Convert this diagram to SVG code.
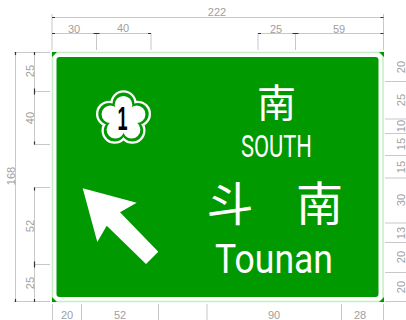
<svg xmlns="http://www.w3.org/2000/svg" width="406" height="320" viewBox="0 0 406 320">
<style>
.d{stroke:#c8c8c8;stroke-width:1;fill:none}
.a{stroke:#333;stroke-width:1.2;fill:none}
.t{font-family:"Liberation Sans",Arial,sans-serif;font-size:11px;fill:#a0a0a0;text-anchor:middle}
.w{fill:#fff;text-anchor:middle}
.c{font-family:"Noto Sans CJK TC","Noto Sans CJK SC",sans-serif;font-weight:400}
.l{font-family:Roboto,"Liberation Sans",Arial,sans-serif;font-weight:400}
</style>
<rect width="406" height="320" fill="#fff"/>
<g id="sign">
<rect x="52.500" y="52.500" width="330.500" height="249" fill="#fff" stroke="#c6eec6" stroke-width="1.600"/>
<path d="M52 52h5l-5 5zM384 52v5l-5-5zM52 302v-5l5 5zM384 302h-5l5-5z" fill="#009900"/>
<rect x="56.500" y="57" width="322" height="240" rx="3" fill="#009900"/>
</g>
<g id="dimensions">
<path class="d" d="M52 14V50M383.500 14V50M52 17.500H383.500M52 33.500H151M258 33.500H383.500M96.500 33V50M151 33V50M258 33V50M295.500 33V50"/>
<path class="d" d="M14 52.500H50M34 91.500H50M34 144.500H50M34 187.500H50M34 264.500H50M14 301.500H50M15.500 52V302M34.500 52V144.500M34.500 187.500V302"/>
<path class="d" d="M385 81.500H406M385 119H406M385 133.500H406M385 155.500H406M385 178H406M385 223H406M385 242.500H406M385 272.500H406M385 301.500H406"/>
<path class="d" d="M52.500 304V320M81.500 304V320M158.500 304V320M207 304V320M341.500 304V320M383.500 304V320"/>
<path class="a" d="M52 17.500h3M380.500 17.500h3M52 33.500h3M93.500 33.500h6M148 33.500h3M258 33.500h3M292.500 33.500h6M380.500 33.500h3M15.500 52v3M15.500 299v3M34.500 52v3M34.500 88.500v6M34.500 141.500v3M34.500 187.500v3M34.500 261.500v6M34.500 299v3"/>
<text class="t" x="217" y="16">222</text>
<text class="t" x="74" y="33">30</text>
<text class="t" x="123" y="32">40</text>
<text class="t" x="276" y="33">25</text>
<text class="t" x="339" y="33">59</text>
<text class="t" transform="translate(15 176) rotate(-90)">168</text>
<text class="t" transform="translate(34 71) rotate(-90)">25</text>
<text class="t" transform="translate(34 118) rotate(-90)">40</text>
<text class="t" transform="translate(34 226) rotate(-90)">52</text>
<text class="t" transform="translate(34 283) rotate(-90)">25</text>
<text class="t" transform="translate(405 67) rotate(-90)">20</text>
<text class="t" transform="translate(405 100) rotate(-90)">25</text>
<text class="t" transform="translate(405 126) rotate(-90)">10</text>
<text class="t" transform="translate(405 144) rotate(-90)">15</text>
<text class="t" transform="translate(405 167) rotate(-90)">15</text>
<text class="t" transform="translate(405 200) rotate(-90)">30</text>
<text class="t" transform="translate(405 233) rotate(-90)">13</text>
<text class="t" transform="translate(405 257) rotate(-90)">20</text>
<text class="t" transform="translate(405 287) rotate(-90)">20</text>
<text class="t" x="67" y="319">20</text>
<text class="t" x="120" y="319">52</text>
<text class="t" x="274" y="319">90</text>
<text class="t" x="360" y="319">28</text>
</g>
<g id="flower" transform="translate(123.500 118.500)">
<g fill="#fff">
<circle r="19"/><circle cy="-15" r="13.200"/><circle cx="14.300" cy="-4.600" r="13.200"/><circle cx="8.800" cy="12.100" r="13.200"/><circle cx="-8.800" cy="12.100" r="13.200"/><circle cx="-14.300" cy="-4.600" r="13.200"/>
</g>
<g fill="#009900">
<circle r="17"/><circle cy="-15" r="10.900"/><circle cx="14.300" cy="-4.600" r="10.900"/><circle cx="8.800" cy="12.100" r="10.900"/><circle cx="-8.800" cy="12.100" r="10.900"/><circle cx="-14.300" cy="-4.600" r="10.900"/>
</g>
<g fill="#fff">
<circle r="13"/><circle cy="-13.800" r="8.800"/><circle cx="13.100" cy="-4.300" r="8.800"/><circle cx="8.100" cy="11.200" r="8.800"/><circle cx="-8.100" cy="11.200" r="8.800"/><circle cx="-13.100" cy="-4.300" r="8.800"/>
</g>
<text x="-1" y="11.500" font-family="'Liberation Sans',sans-serif" font-weight="700" font-size="33" text-anchor="middle" textLength="10" lengthAdjust="spacingAndGlyphs" fill="#000">1</text>
</g>
<g id="arrow"><polygon points="82.700,188.300 136.700,202.700 120,212.300 158.300,251.700 146,264 106.700,225.700 97.300,242" fill="#fff"/></g>
<g id="labels">
<text class="w c" x="276.500" y="117" font-size="39">南</text>
<text class="w l" x="276.500" y="157" font-size="31" textLength="71" lengthAdjust="spacingAndGlyphs">SOUTH</text>
<text class="w c" x="230" y="221" font-size="47">斗</text>
<text class="w c" x="319.500" y="221" font-size="47">南</text>
<text class="w l" x="274" y="273" font-size="40" textLength="118" lengthAdjust="spacingAndGlyphs">Tounan</text>
</g>
</svg>
